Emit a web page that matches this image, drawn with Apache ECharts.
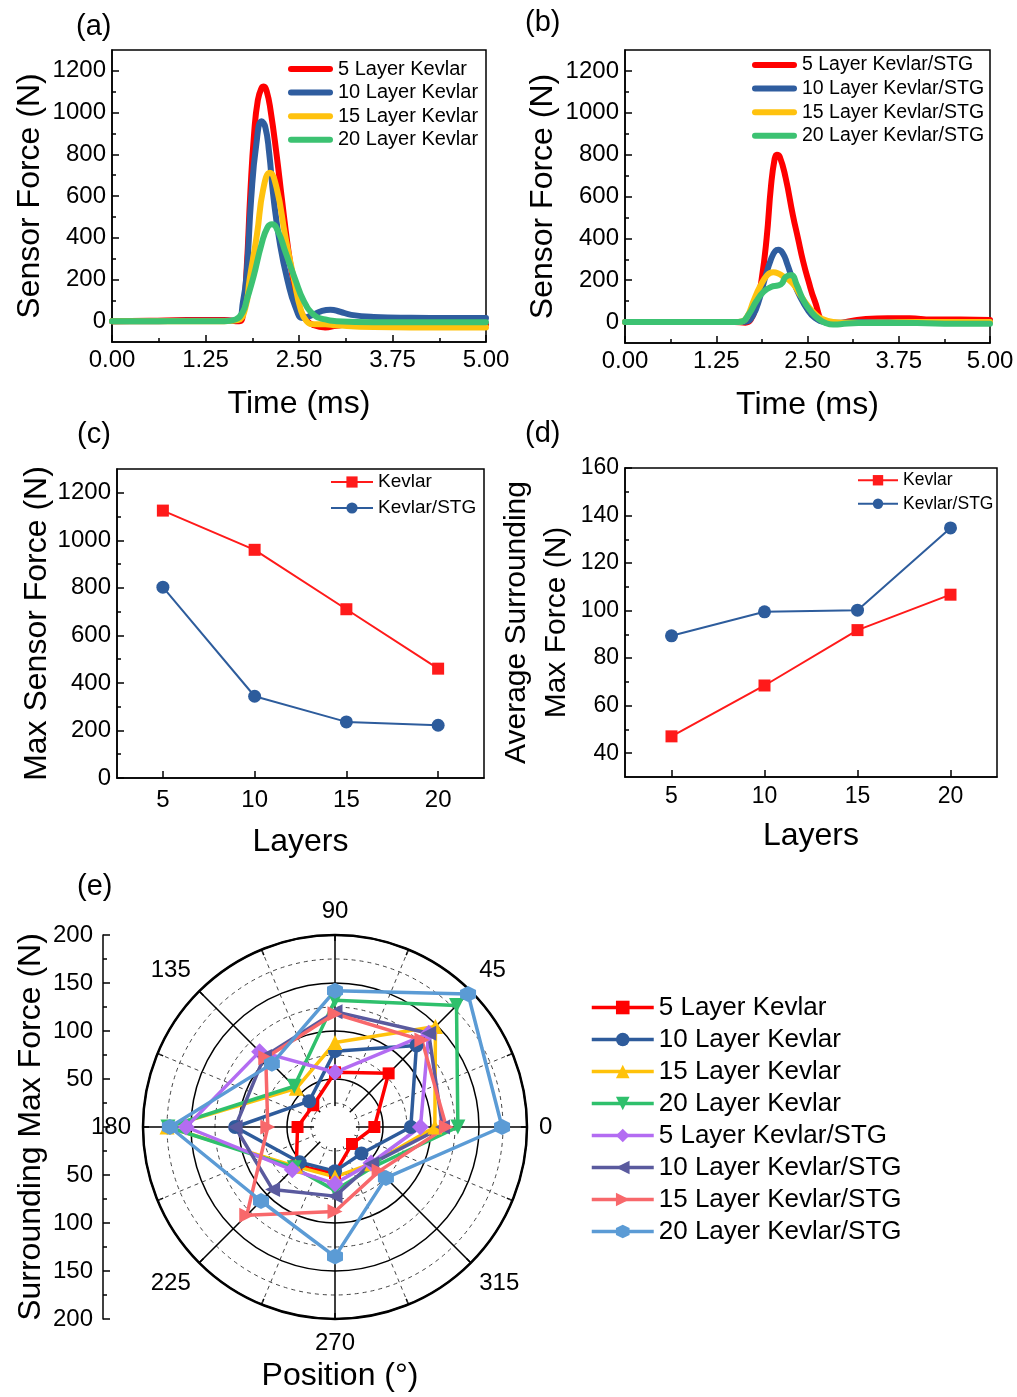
<!DOCTYPE html>
<html><head><meta charset="utf-8">
<script src="https://cdn.jsdelivr.net/npm/echarts@6/dist/echarts.min.js"></script>
<style>html,body{margin:0;padding:0;background:#fff}#c{width:1017px;height:1397px}</style>
</head><body><div id="c"></div>
<script>
// ---------------- DATA ----------------
// (a) Kevlar time histories: time (ms) and sensor force (N)
const tA5  = [0,0.5,1.0,1.5,1.7,1.75,1.8,1.85,1.9,1.95,2.0,2.03,2.07,2.12,2.2,2.27,2.35,2.42,2.5,2.6,2.7,2.85,3.0,3.2,3.5,4.0,4.5,5.0];
const fA5  = [0,2,5,5,0,30,250,620,900,1060,1118,1125,1100,1010,800,590,360,200,70,5,-20,-30,-22,-15,-15,-15,-15,-15];
const tA10 = [0,0.5,1.0,1.5,1.68,1.75,1.8,1.86,1.93,2.0,2.05,2.1,2.16,2.25,2.35,2.45,2.55,2.65,2.8,2.92,3.05,3.2,3.5,4.0,4.5,5.0];
const fA10 = [0,0,2,2,5,90,230,584,850,958,930,810,590,360,190,70,15,25,48,55,45,30,20,16,15,15];
const tA15 = [0,0.5,1.0,1.5,1.68,1.78,1.84,1.94,2.02,2.11,2.2,2.32,2.44,2.52,2.6,2.7,2.85,3.0,3.5,4.0,4.5,5.0];
const fA15 = [0,0,0,0,5,60,200,420,630,712,640,400,190,60,0,-15,-15,-20,-28,-30,-30,-30];
const tA20 = [0,0.5,1.0,1.5,1.65,1.75,1.8,1.89,2.0,2.08,2.14,2.22,2.32,2.45,2.56,2.7,2.85,3.0,3.5,4.0,5.0];
const fA20 = [0,0,0,0,8,45,100,210,370,450,464,430,330,200,100,30,8,0,-5,-5,-5];

// (b) Kevlar/STG time histories
const tB5  = [0,0.5,1.0,1.5,1.65,1.72,1.8,1.87,1.94,2.0,2.05,2.08,2.12,2.2,2.3,2.37,2.44,2.51,2.6,2.74,2.9,3.1,3.3,3.6,3.9,4.2,4.6,5.0];
const fB5  = [0,0,0,0,-3,10,80,200,400,650,780,800,790,690,510,400,290,200,100,0,-5,5,15,18,18,12,12,10];
const tB10 = [0,0.5,1.0,1.5,1.65,1.75,1.85,1.91,2.0,2.06,2.1,2.16,2.22,2.3,2.4,2.5,2.6,2.75,2.9,3.2,3.6,4.0,5.0];
const fB10 = [0,0,0,0,2,30,120,200,300,340,345,330,280,200,120,60,20,0,-3,0,0,0,0];
const tB15 = [0,0.5,1.0,1.5,1.6,1.68,1.76,1.85,1.95,2.03,2.1,2.18,2.25,2.32,2.4,2.5,2.6,2.7,2.85,3.0,3.5,4.0,5.0];
const fB15 = [0,0,0,0,3,30,100,170,225,238,232,215,200,175,130,80,40,15,0,-3,-2,0,0];
const tB20 = [0,0.5,1.0,1.5,1.6,1.7,1.8,1.9,2.0,2.1,2.15,2.2,2.28,2.35,2.45,2.55,2.65,2.75,2.85,2.95,3.2,3.6,4.0,4.5,5.0];
const fB20 = [0,0,0,0,3,40,100,145,168,175,185,215,225,180,100,50,15,-5,-12,-10,-5,-5,-5,-8,-8];

const timeTicks  = [0,1.25,2.5,3.75,5];
const forceTicks = [0,200,400,600,800,1000,1200];
const forceMinor = [100,300,500,700,900,1100];

// (c) max sensor force vs layers
const layers      = [5,10,15,20];
const maxKevlar   = [1125,960,710,460];
const maxSTG      = [803,344,236,222];
// (d) average surrounding max force vs layers
const avgKevlar   = [47.1,68.5,91.8,106.7];
const avgSTG      = [89.4,99.5,100.2,134.8];
const avgTicks    = [40,60,80,100,120,140,160];
const avgMinor    = [50,70,90,110,130,150];

// (e) surrounding max force by position (deg)
const positions = [0,45,90,135,180,225,270,315];
const p5K  = [41,79,57,32,39,57,48,25];
const p10K = [79,120,79,38,104,52,46,39];
const p15K = [104,148,88,57,175,58,52,54];
const p20K = [128,179,132,60,174,60,66,58];
const p5S  = [89,138,57,111,155,63,59,53];
const p10S = [112,138,120,104,104,92,72,54];
const p15S = [116,128,118,102,70,130,88,65];
const p20S = [174,196,142,93,172,109,135,75];

// ---------------- CHART ----------------
const FONT = '"Liberation Sans", Arial, Helvetica, sans-serif';
const K = '#000';
const pair = (xs, ys) => xs.map((x, i) => [x, ys[i]]);
const plain = v => String(v);

function axisBase(gi, min, max) {
  return {
    type: 'value', gridIndex: gi, min: min, max: max,
    axisLine: { show: true, onZero: false, lineStyle: { color: K, width: 1.5 } },
    axisTick: { show: true, inside: true, length: 7, lineStyle: { color: K, width: 1.5 } },
    splitLine: { show: false },
    axisLabel: { color: K, fontSize: 24, fontFamily: FONT, margin: 8, formatter: plain },
    nameLocation: 'middle',
    nameTextStyle: { color: K, fontSize: 32, fontFamily: FONT }
  };
}
function minorAxis(gi, min, max, vals) {
  return {
    type: 'value', gridIndex: gi, min: min, max: max, position: 'left',
    axisLine: { show: false }, splitLine: { show: false },
    axisLabel: { show: false, customValues: vals },
    axisTick: { show: true, inside: true, length: 4, customValues: vals, lineStyle: { color: K, width: 1.5 } }
  };
}

const xAxes = [];
const yAxes = [];
[0, 1].forEach(gi => {
  const x = axisBase(gi, 0, 5);
  x.interval = 1.25;
  x.minorTick = { show: true, splitNumber: 2, length: 4, lineStyle: { color: K, width: 1.5 } };
  x.axisLabel.formatter = v => v.toFixed(2);
  x.axisLabel.margin = 6;
  x.name = 'Time (ms)'; x.nameGap = 46;
  xAxes.push(x);
  const y = axisBase(gi, -100, 1300);
  y.axisLabel.customValues = forceTicks;
  y.axisTick.customValues = forceTicks;
  y.axisLabel.margin = 6;
  y.name = 'Sensor Force (N)'; y.nameRotate = 90; y.nameGap = 66;
  yAxes.push(y);
  yAxes.push(minorAxis(gi, -100, 1300, forceMinor));
});
[2, 3].forEach(gi => {
  const x = axisBase(gi, 2.5, 22.5);
  x.axisLabel.customValues = layers;
  x.axisTick.customValues = layers;
  x.axisLabel.margin = gi === 2 ? 10 : 8;
  x.name = 'Layers';
  x.nameGap = gi === 2 ? 48 : 43;
  if (gi === 3) x.axisLabel.fontSize = 23;
  xAxes.push(x);
});
{
  const y = axisBase(2, 0, 1300);
  y.axisLabel.customValues = forceTicks;
  y.axisTick.customValues = forceTicks;
  y.axisLabel.margin = 6;
  y.name = 'Max Sensor Force (N)'; y.nameRotate = 90; y.nameGap = 64;
  yAxes.push(y);
  yAxes.push(minorAxis(2, 0, 1300, forceMinor));
  const y2 = axisBase(3, 30, 160);
  y2.axisLabel.customValues = avgTicks;
  y2.axisTick.customValues = avgTicks;
  y2.axisLabel.margin = 6; y2.axisLabel.fontSize = 23;
  y2.name = 'Average Surrounding\nMax Force (N)'; y2.nameRotate = 90; y2.nameGap = 41;
  y2.nameTextStyle = { color: K, fontSize: 30, fontFamily: FONT, lineHeight: 40 };
  yAxes.push(y2);
  yAxes.push(minorAxis(3, 30, 160, avgMinor));
}
xAxes.push({ type: 'value', gridIndex: 4, min: 0, max: 1, show: false });
yAxes.push({
  type: 'value', gridIndex: 4, min: -200, max: 200, interval: 50, position: 'left',
  axisLine: { show: true, lineStyle: { color: K, width: 1.5 } },
  axisTick: { show: true, inside: true, length: 7, lineStyle: { color: K, width: 1.5 } },
  minorTick: { show: true, splitNumber: 2, length: 4, lineStyle: { color: K, width: 1.5 } },
  splitLine: { show: false },
  axisLabel: { color: K, fontSize: 24, fontFamily: FONT, margin: 10,
    formatter: v => v === 0 ? '' : String(Math.abs(v)) },
  name: 'Surrounding Max Force (N)', nameLocation: 'middle', nameRotate: 90, nameGap: 56,
  nameTextStyle: { color: K, fontSize: 32, fontFamily: FONT }
});

const lineCols = ['#FF0000', '#2F5D9F', '#FFC20E', '#3CC272'];
const series = [];
const aSets = [['5 Layer Kevlar', tA5, fA5], ['10 Layer Kevlar', tA10, fA10], ['15 Layer Kevlar', tA15, fA15], ['20 Layer Kevlar', tA20, fA20]];
const bSets = [['5 Layer Kevlar/STG', tB5, fB5], ['10 Layer Kevlar/STG', tB10, fB10], ['15 Layer Kevlar/STG', tB15, fB15], ['20 Layer Kevlar/STG', tB20, fB20]];
[[aSets, 0, 0], [bSets, 1, 2]].forEach(([sets, xi, yi]) => {
  sets.forEach((s, i) => {
    series.push({
      type: 'line', name: s[0], xAxisIndex: xi, yAxisIndex: yi,
      data: pair(s[1], s[2]), symbol: 'none', showSymbol: false,
      smooth: 0.5,
      color: lineCols[i],
      lineStyle: { width: 6, color: lineCols[i], cap: 'round', join: 'round' }
    });
  });
});
const RED = '#FF1A1A', BLUE = '#2D5C9C';
series.push({ type: 'line', name: 'Kevlar', xAxisIndex: 2, yAxisIndex: 4, data: pair(layers, maxKevlar),
  symbol: 'rect', symbolSize: 12, color: RED, lineStyle: { width: 2, color: RED } });
series.push({ type: 'line', name: 'Kevlar/STG', xAxisIndex: 2, yAxisIndex: 4, data: pair(layers, maxSTG),
  symbol: 'circle', symbolSize: 13, color: BLUE, lineStyle: { width: 2, color: BLUE } });
series.push({ type: 'line', name: 'd|Kevlar', xAxisIndex: 3, yAxisIndex: 6, data: pair(layers, avgKevlar),
  symbol: 'rect', symbolSize: 12, color: RED, lineStyle: { width: 2, color: RED } });
series.push({ type: 'line', name: 'd|Kevlar/STG', xAxisIndex: 3, yAxisIndex: 6, data: pair(layers, avgSTG),
  symbol: 'circle', symbolSize: 13, color: BLUE, lineStyle: { width: 2, color: BLUE } });

const HEX = 'path://M5,0 L9.33,2.5 L9.33,7.5 L5,10 L0.67,7.5 L0.67,2.5 Z';
const TRI_DOWN = 'path://M0,0 L10,0 L5,9 Z';
const TRI_LEFT = 'path://M0,5 L9,0 L9,10 Z';
const TRI_RIGHT = 'path://M9,5 L0,0 L0,10 Z';
const polarSets = [
  ['5 Layer Kevlar', p5K, '#FF0000', 'rect', 12],
  ['10 Layer Kevlar', p10K, '#2E5B9B', 'circle', 14],
  ['15 Layer Kevlar', p15K, '#FFC20A', 'triangle', 15],
  ['20 Layer Kevlar', p20K, '#2FC06C', TRI_DOWN, 15],
  ['5 Layer Kevlar/STG', p5S, '#B36CF2', 'diamond', 17],
  ['10 Layer Kevlar/STG', p10S, '#5A5A9E', TRI_LEFT, 15],
  ['15 Layer Kevlar/STG', p15S, '#F8686B', TRI_RIGHT, 15],
  ['20 Layer Kevlar/STG', p20S, '#5B9BD5', HEX, 16]
];
polarSets.forEach(s => {
  const d = s[1].map((v, i) => [v, positions[i]]);
  d.push({ value: [s[1][0], 360], symbol: 'none' });
  series.push({
    type: 'line', name: 'e|' + s[0], coordinateSystem: 'polar', polarIndex: 0,
    data: d, symbol: s[3], symbolSize: s[4], color: s[2],
    itemStyle: { color: s[2] },
    lineStyle: { width: 3.5, color: s[2], join: 'round' }
  });
});

const txt = (t, x, y, size, align) => ({
  type: 'text', x: x, y: y, z: 10,
  style: { text: t, fill: K, fontSize: size, fontFamily: FONT,
    align: align || 'left', verticalAlign: 'middle', textAlign: align || 'left', textVerticalAlign: 'middle' }
});
const thickIcon = 'path://M3,0 L42,0 A3,3 0 0 1 42,6 L3,6 A3,3 0 0 1 3,0 Z';
const legTxt = (fs, lh) => ({ color: K, fontSize: fs, fontFamily: FONT, lineHeight: lh || fs + 1 });

const option = {
  animation: false,
  backgroundColor: '#fff',
  textStyle: { fontFamily: FONT },
  grid: [
    { left: 112, top: 50, width: 374, height: 292, show: true, borderColor: K, borderWidth: 1.5, backgroundColor: 'transparent' },
    { left: 625, top: 50, width: 365, height: 293, show: true, borderColor: K, borderWidth: 1.5, backgroundColor: 'transparent' },
    { left: 117, top: 469, width: 367, height: 309, show: true, borderColor: K, borderWidth: 1.5, backgroundColor: 'transparent' },
    { left: 625, top: 468, width: 372, height: 309, show: true, borderColor: K, borderWidth: 1.5, backgroundColor: 'transparent' },
    { left: 103, top: 935, width: 10, height: 384, show: false }
  ],
  xAxis: xAxes,
  yAxis: yAxes,
  polar: { center: [335, 1127], radius: 192 },
  angleAxis: {
    type: 'value', min: 0, max: 360, interval: 45, startAngle: 0, clockwise: false,
    axisLine: { show: true, lineStyle: { color: K, width: 2.5 } },
    axisTick: { show: true, inside: true, length: 6, lineStyle: { color: K, width: 1.5 } },
    minorTick: { show: true, splitNumber: 2, length: 6, lineStyle: { color: K, width: 1.5 } },
    axisLabel: { show: true, color: K, fontSize: 24, fontFamily: FONT, margin: 12 },
    splitLine: { show: true, lineStyle: { color: K, width: 1.5 } },
    minorSplitLine: { show: true, lineStyle: { color: '#444', width: 1, type: [4, 4] } }
  },
  radiusAxis: {
    type: 'value', min: 0, max: 200, interval: 50,
    axisLine: { show: false }, axisTick: { show: false }, axisLabel: { show: false },
    minorTick: { show: false, splitNumber: 2 },
    splitLine: { show: true, lineStyle: { color: K, width: 1.5 } },
    minorSplitLine: { show: true, lineStyle: { color: '#444', width: 1, type: [4, 4] } }
  },
  legend: [
    { data: aSets.map(s => s[0]), orient: 'vertical', left: 288, top: 59, padding: 0, itemWidth: 45, itemHeight: 7, itemGap: 3.6,
      icon: thickIcon, textStyle: legTxt(20, 20), selectedMode: false },
    { data: bSets.map(s => s[0]), orient: 'vertical', left: 752, top: 55, padding: 0, itemWidth: 45, itemHeight: 7, itemGap: 3.6,
      icon: thickIcon, textStyle: legTxt(19.5, 20), selectedMode: false },
    { data: ['Kevlar', 'Kevlar/STG'], orient: 'vertical', left: 330, top: 472, padding: 0, itemWidth: 42, itemHeight: 14, itemGap: 6,
      textStyle: legTxt(19), lineStyle: { width: 2 }, selectedMode: false },
    { data: ['d|Kevlar', 'd|Kevlar/STG'], orient: 'vertical', left: 857, top: 471, padding: 0, itemWidth: 40, itemHeight: 13, itemGap: 5,
      textStyle: legTxt(17.5), lineStyle: { width: 2 }, formatter: n => n.replace('d|', ''), selectedMode: false },
    { data: polarSets.map(s => 'e|' + s[0]), orient: 'vertical', left: 590, top: 994, padding: 0, itemWidth: 62, itemHeight: 17, itemGap: 5,
      textStyle: legTxt(26), lineStyle: { width: 3.5 }, formatter: n => n.replace('e|', ''), selectedMode: false }
  ],
  graphic: [
    { type: 'circle', shape: { cx: 335, cy: 1127, r: 21 }, style: { fill: '#fff' }, z: 1 },
    txt('(a)', 76, 27, 29), txt('(b)', 525, 23, 29), txt('(c)', 77, 435, 29),
    txt('(d)', 525, 434, 29), txt('(e)', 77, 887, 29),
    txt('Position (°)', 340, 1376, 32, 'center')
  ],
  series: series
};
const chart = echarts.init(document.getElementById('c'), null, { renderer: 'canvas' });
chart.setOption(option);
</script></body></html>
